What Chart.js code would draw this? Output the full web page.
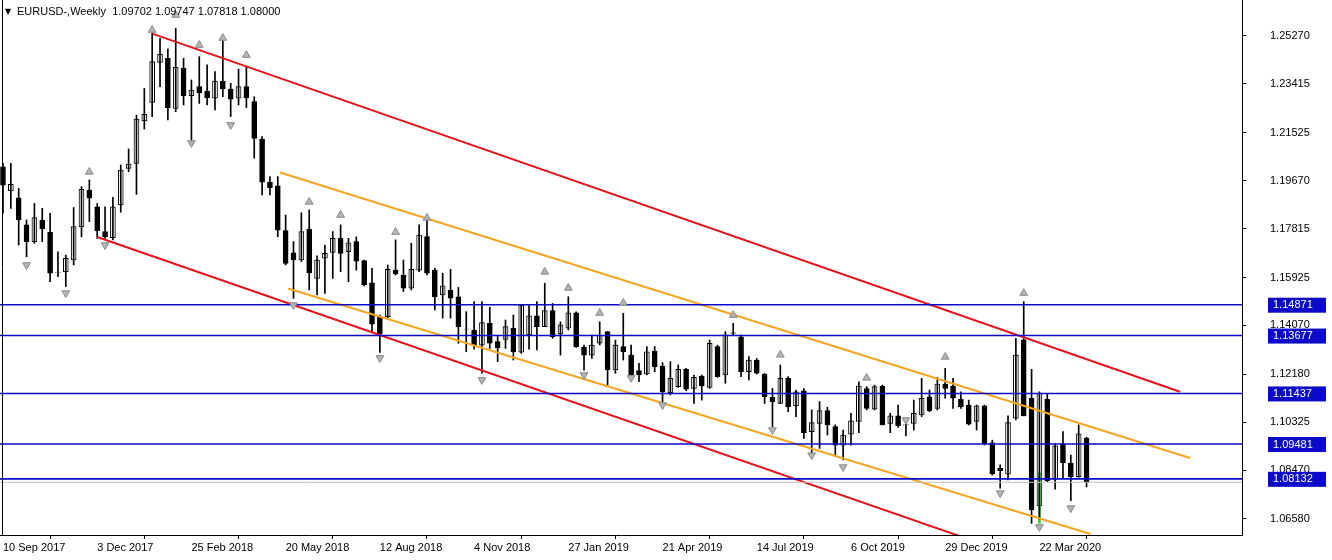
<!DOCTYPE html>
<html>
<head>
<meta charset="utf-8">
<script src="https://cdn.jsdelivr.net/npm/chart.js@4.4.0/dist/chart.umd.min.js"></script>
<style>
  html, body { margin: 0; padding: 0; background: #fff; }
  #wrap { width: 1332px; height: 560px; position: relative; }
  canvas { display: block; }
</style>
</head>
<body>
<div id="wrap"><canvas id="chart1"></canvas></div>
<script>
const title = 'EURUSD-,Weekly  1.09702 1.09747 1.07818 1.08000'

const weekLabels = ['10 Sep 2017', '3 Dec 2017', '25 Feb 2018', '20 May 2018', '12 Aug 2018', '4 Nov 2018',
    '27 Jan 2019', '21 Apr 2019', '14 Jul 2019', '6 Oct 2019', '29 Dec 2019', '22 Mar 2020']
const weekLabelIndex = [0, 12, 24, 36, 48, 60, 72, 84, 96, 108, 120, 132]

const priceTicks = [1.25270, 1.23415, 1.21525, 1.19670, 1.17815, 1.15925, 1.14070, 1.12180, 1.10325, 1.08470, 1.06580]
const levels = [1.14871, 1.13677, 1.11437, 1.09481, 1.08132]
const lastPrice = 1.08000

// weekly candles, one per week from 10 Sep 2017
const opens = [1.2021, 1.1927, 1.1901, 1.1796, 1.1731, 1.1815, 1.1767, 1.1612, 1.1615, 1.1660, 1.1789, 1.1931, 1.1866, 1.1770, 1.1747, 1.1873, 1.2015, 1.2034, 1.2198, 1.2270,
    1.2425, 1.2441, 1.2247, 1.2402, 1.2296, 1.2331, 1.2314, 1.2286, 1.2353, 1.2322, 1.2286, 1.2331, 1.2273, 1.2128, 1.1961, 1.1947, 1.1774, 1.1688, 1.1660, 1.1779,
    1.1589, 1.1667, 1.1689, 1.1744, 1.1692, 1.1731, 1.1658, 1.1572, 1.1441, 1.1441, 1.1621, 1.1602, 1.1551, 1.1621, 1.1751, 1.1621, 1.1525, 1.1544, 1.1518, 1.1392,
    1.1389, 1.1331, 1.1415, 1.1344, 1.1353, 1.1396, 1.1303, 1.1370, 1.1444, 1.1402, 1.1464, 1.1374, 1.1396, 1.1456, 1.1322, 1.1292, 1.1338, 1.1383, 1.1235, 1.1325,
    1.1292, 1.1232, 1.1219, 1.1308, 1.1250, 1.1147, 1.1170, 1.1237, 1.1163, 1.1211, 1.1167, 1.1325, 1.1215, 1.1376, 1.1363, 1.1228, 1.1273, 1.1219, 1.1129, 1.1105,
    1.1202, 1.1095, 1.1154, 1.0996, 1.1028, 1.1077, 1.1015, 1.0944, 1.0986, 1.1035, 1.1163, 1.1083, 1.1172, 1.1028, 1.1057, 1.1022, 1.1028, 1.1061, 1.1131, 1.1086,
    1.1180, 1.1172, 1.1121, 1.1099, 1.1035, 1.1096, 1.0953, 1.0854, 1.0831, 1.1048, 1.1351, 1.1125, 1.0708, 1.1121, 1.0812, 1.0950, 1.0873, 1.0822, 1.09702]
const highs = [1.2034, 1.2034, 1.1937, 1.1815, 1.1879, 1.1860, 1.1841, 1.1692, 1.1679, 1.1863, 1.1944, 1.1970, 1.1879, 1.1866, 1.1903, 1.2028, 1.2090, 1.2221, 1.2324, 1.2537,
    1.2518, 1.2477, 1.2557, 1.2441, 1.2357, 1.2447, 1.2415, 1.2389, 1.2531, 1.2344, 1.2399, 1.2409, 1.2292, 1.2138, 1.1983, 1.1983, 1.1834, 1.1731, 1.1843, 1.1854,
    1.1676, 1.1718, 1.1770, 1.1796, 1.1744, 1.1750, 1.1660, 1.1628, 1.1447, 1.1641, 1.1738, 1.1660, 1.1725, 1.1796, 1.1815, 1.1628, 1.1609, 1.1624, 1.1554, 1.1460,
    1.1499, 1.1499, 1.1477, 1.1364, 1.1428, 1.1447, 1.1486, 1.1486, 1.1499, 1.1570, 1.1492, 1.1421, 1.1518, 1.1460, 1.1331, 1.1370, 1.1421, 1.1383, 1.1350, 1.1454,
    1.1331, 1.1260, 1.1325, 1.1325, 1.1263, 1.1267, 1.1254, 1.1241, 1.1215, 1.1215, 1.1350, 1.1331, 1.1383, 1.1415, 1.1370, 1.1286, 1.1279, 1.1221, 1.1163, 1.1254,
    1.1209, 1.1157, 1.1163, 1.1080, 1.1112, 1.1090, 1.1022, 1.1002, 1.1067, 1.1189, 1.1170, 1.1176, 1.1176, 1.1067, 1.1099, 1.1035, 1.1118, 1.1202, 1.1157, 1.1206,
    1.1241, 1.1202, 1.1150, 1.1118, 1.1099, 1.1099, 1.0963, 1.0867, 1.1057, 1.1357, 1.1499, 1.1237, 1.1150, 1.1144, 1.0950, 1.0996, 1.0905, 1.1022, 1.09747]
const lows = [1.1841, 1.1860, 1.1718, 1.1673, 1.1725, 1.1731, 1.1576, 1.1596, 1.1557, 1.1641, 1.1750, 1.1809, 1.1744, 1.1744, 1.1738, 1.1845, 1.2002, 1.1914, 1.2167, 1.2215,
    1.2331, 1.2202, 1.2234, 1.2260, 1.2112, 1.2266, 1.2260, 1.2241, 1.2292, 1.2215, 1.2260, 1.2250, 1.2054, 1.1912, 1.1912, 1.1750, 1.1641, 1.1512, 1.1654, 1.1544,
    1.1525, 1.1531, 1.1589, 1.1615, 1.1576, 1.1621, 1.1560, 1.1383, 1.1302, 1.1435, 1.1602, 1.1538, 1.1544, 1.1615, 1.1602, 1.1467, 1.1435, 1.1435, 1.1338, 1.1305,
    1.1315, 1.1222, 1.1318, 1.1267, 1.1318, 1.1273, 1.1299, 1.1315, 1.1312, 1.1402, 1.1357, 1.1292, 1.1389, 1.1322, 1.1234, 1.1279, 1.1331, 1.1176, 1.1222, 1.1273,
    1.1209, 1.1189, 1.1215, 1.1228, 1.1112, 1.1138, 1.1167, 1.1154, 1.1105, 1.1118, 1.1163, 1.1206, 1.1183, 1.1370, 1.1209, 1.1196, 1.1219, 1.1105, 1.1015, 1.1105,
    1.1073, 1.1054, 1.0970, 1.0899, 1.0931, 1.0983, 1.0905, 1.0886, 1.0944, 1.0992, 1.1080, 1.1080, 1.1022, 1.0992, 1.1012, 1.0979, 1.1002, 1.1054, 1.1073, 1.1080,
    1.1125, 1.1086, 1.1086, 1.1022, 1.1002, 1.0944, 1.0828, 1.0777, 1.0809, 1.1041, 1.1057, 1.0641, 1.0657, 1.0802, 1.0773, 1.0815, 1.0729, 1.0819, 1.07818]
const closes = [1.1950, 1.1953, 1.1815, 1.1731, 1.1824, 1.1780, 1.1609, 1.1613, 1.1667, 1.1789, 1.1934, 1.1899, 1.1774, 1.1750, 1.1866, 1.2008, 1.2031, 1.2205, 1.2224, 1.2428,
    1.2456, 1.2250, 1.2406, 1.2296, 1.2318, 1.2308, 1.2288, 1.2353, 1.2322, 1.2283, 1.2331, 1.2288, 1.2131, 1.1961, 1.1940, 1.1776, 1.1647, 1.1660, 1.1770, 1.1611,
    1.1660, 1.1686, 1.1744, 1.1686, 1.1727, 1.1656, 1.1564, 1.1412, 1.1374, 1.1624, 1.1606, 1.1551, 1.1624, 1.1757, 1.1609, 1.1518, 1.1560, 1.1512, 1.1402, 1.1393,
    1.1331, 1.1418, 1.1338, 1.1321, 1.1402, 1.1305, 1.1486, 1.1444, 1.1402, 1.1464, 1.1363, 1.1409, 1.1456, 1.1325, 1.1292, 1.1331, 1.1370, 1.1235, 1.1331, 1.1305,
    1.1215, 1.1215, 1.1305, 1.1247, 1.1150, 1.1202, 1.1237, 1.1160, 1.1206, 1.1173, 1.1338, 1.1209, 1.1370, 1.1378, 1.1228, 1.1273, 1.1222, 1.1131, 1.1112, 1.1202,
    1.1092, 1.1150, 1.0992, 1.1031, 1.1077, 1.1022, 1.0944, 1.0983, 1.1038, 1.1172, 1.1086, 1.1170, 1.1022, 1.1057, 1.1019, 1.1023, 1.1067, 1.1125, 1.1077, 1.1180,
    1.1163, 1.1125, 1.1093, 1.1025, 1.1096, 1.0948, 1.0832, 1.0845, 1.1031, 1.1292, 1.1057, 1.0693, 1.1144, 1.0806, 1.0941, 1.0876, 1.0822, 1.0987, 1.08000]

// fractal arrows (week index, price)
const upArrowWeeks = [11, 19, 22, 25, 28, 31, 39, 43, 50, 54, 69, 72, 76, 79, 93, 99, 110, 120, 130]
const upArrowPrices = [1.2001, 1.2550, 1.2608, 1.2492, 1.2519, 1.2453, 1.1885, 1.1834, 1.1768, 1.1823, 1.1614, 1.1552, 1.1455, 1.1494, 1.1447, 1.1293, 1.1204, 1.1285, 1.1532]
const downArrowWeeks = [3, 8, 13, 24, 29, 37, 48, 61, 74, 80, 84, 98, 103, 107, 115, 127, 132, 136]
const downArrowPrices = [1.1641, 1.1532, 1.1718, 1.2113, 1.2183, 1.1486, 1.1281, 1.1196, 1.1215, 1.1204, 1.1099, 1.1002, 1.0905, 1.0859, 1.1041, 1.0758, 1.0627, 1.0700]

// channel lines: [start week, start price, end week, end price]
const redUpper = [19.1, 1.2535, 149.9, 1.1150]
const redLower = [12.0, 1.1749, 122.0, 1.0590]
const orangeUpper = [35.3, 1.1999, 151.2, 1.0894]
const orangeLower = [36.3, 1.1550, 138.5, 1.0600]
const greenBar = [132, 1.0837, 1.0641]

const xMin = -0.38
const xMax = 157.8

function segment(line) {
    return [{ x: line[0], y: line[1] }, { x: line[2], y: line[3] }]
}

function printWeeklyChart() {
    const idx = opens.map((o, i) => i)
    const lineStyle = { type: 'line', pointRadius: 0, borderWidth: 2, fill: false }
    const arrowStyle = { type: 'scatter', pointStyle: 'triangle', pointRadius: 4.5, backgroundColor: '#b4b4b4', borderColor: '#8c8c8c', borderWidth: 1 }

    const datasets = [
        { ...arrowStyle, data: upArrowWeeks.map((w, i) => ({ x: w, y: upArrowPrices[i] })) },
        { ...arrowStyle, rotation: 180, data: downArrowWeeks.map((w, i) => ({ x: w, y: downArrowPrices[i] })) },
        ...levels.map(v => ({ ...lineStyle, data: [{ x: xMin, y: v }, { x: xMax, y: v }], borderColor: '#0a0ac8', borderWidth: 1.6 })),
        { ...lineStyle, data: [{ x: xMin, y: lastPrice }, { x: xMax, y: lastPrice }], borderColor: '#c0c0c0', borderWidth: 1 },
        { ...lineStyle, data: segment(redUpper), borderColor: '#e3141c' },
        { ...lineStyle, data: segment(redLower), borderColor: '#e3141c' },
        { ...lineStyle, data: segment(orangeUpper), borderColor: '#f5a623' },
        { ...lineStyle, data: segment(orangeLower), borderColor: '#f5a623' },
        {
            type: 'bar', grouped: false, barThickness: 1,
            data: idx.map(i => ({ x: i, y: [lows[i], highs[i]] })),
            backgroundColor: '#000'
        },
        {
            type: 'bar', grouped: false, barThickness: 2,
            data: [{ x: greenBar[0], y: [greenBar[2], greenBar[1]] }],
            backgroundColor: '#33cc33'
        },
        {
            type: 'bar', grouped: false, barThickness: 5,
            data: idx.map(i => ({ x: i, y: [opens[i], closes[i] === opens[i] ? closes[i] + 0.00008 : closes[i]] })),
            backgroundColor: idx.map(i => closes[i] >= opens[i] ? '#fff' : '#000'),
            borderColor: '#000', borderWidth: 1, borderSkipped: false
        }
    ]

    const overlay = {
        id: 'overlay',
        afterDraw(chart) {
            const ctx = chart.ctx
            const y = chart.scales.y
            const area = chart.chartArea
            ctx.save()
            ctx.strokeStyle = '#000'
            ctx.lineWidth = 1
            ctx.beginPath()
            ctx.moveTo(2.5, 0)
            ctx.lineTo(2.5, area.bottom)
            ctx.stroke()
            ctx.font = '11px "Liberation Sans", Arial'
            ctx.textBaseline = 'middle'
            levels.forEach(v => {
                const py = y.getPixelForValue(v)
                ctx.fillStyle = '#0a0ac8'
                ctx.fillRect(1268, py - 7, 58, 15)
                ctx.fillStyle = '#fff'
                ctx.fillText(v.toFixed(5), 1273, py + 0.5)
            })
            ctx.fillStyle = '#000'
            ctx.font = '8px "DejaVu Sans"'
            ctx.fillText('▼', 5, 12)
            ctx.font = '11px "Liberation Sans", Arial'
            ctx.fillText(title, 17, 12)
            ctx.restore()
        }
    }

    new Chart('chart1', {
        data: { datasets },
        options: {
            responsive: false,
            animation: false,
            events: [],
            layout: { padding: 0, autoPadding: false },
            plugins: { legend: { display: false }, tooltip: { enabled: false } },
            scales: {
                x: {
                    type: 'linear', min: xMin, max: xMax, offset: false,
                    afterBuildTicks: s => { s.ticks = weekLabelIndex.map(v => ({ value: v })) },
                    afterFit: s => { s.height = 25; s.paddingLeft = 0; s.paddingRight = 0 },
                    ticks: {
                        align: 'start', maxRotation: 0, autoSkip: false, color: '#000', padding: 2,
                        font: { family: '"Liberation Sans", Arial', size: 11 },
                        callback: v => weekLabels[weekLabelIndex.indexOf(v)]
                    },
                    grid: { drawOnChartArea: false, tickLength: 4, color: '#000' },
                    border: { color: '#000' }
                },
                y: {
                    position: 'right', min: 1.05959, max: 1.26663,
                    afterBuildTicks: s => { s.ticks = priceTicks.map(v => ({ value: v })) },
                    afterFit: s => { s.width = 90; s.paddingTop = 0; s.paddingBottom = 0 },
                    ticks: {
                        color: '#000', padding: 24,
                        font: { family: '"Liberation Sans", Arial', size: 11 },
                        callback: v => v.toFixed(5)
                    },
                    grid: { drawOnChartArea: false, tickLength: 4, color: '#000' },
                    border: { color: '#000' }
                }
            }
        },
        plugins: [overlay]
    })
}

const canvas = document.getElementById('chart1')
canvas.width = 1332
canvas.height = 560
canvas.style.width = '1332px'
canvas.style.height = '560px'
printWeeklyChart()
</script>
</body>
</html>
